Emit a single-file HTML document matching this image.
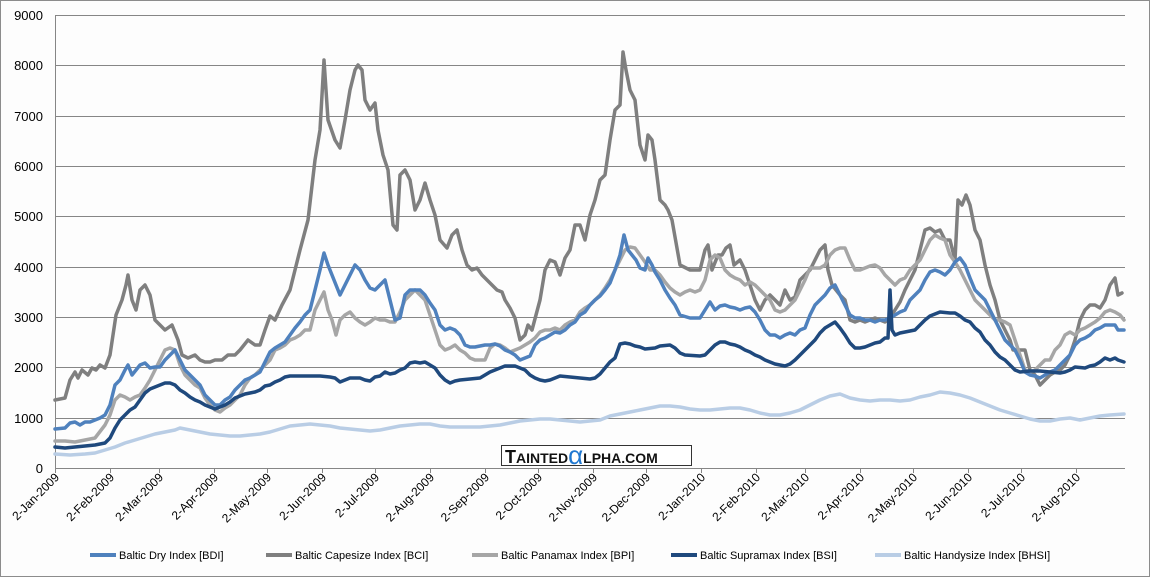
<!DOCTYPE html>
<html><head><meta charset="utf-8"><style>
body{margin:0;background:#fff}
svg{display:block;font-family:"Liberation Sans",Arial,sans-serif}
</style></head><body>
<svg width="1150" height="577" viewBox="0 0 1150 577" xmlns="http://www.w3.org/2000/svg">
<rect x="0.5" y="0.5" width="1149" height="576" fill="#fdfdfd" stroke="#8c8c8c"/>
<g stroke="#868686" stroke-width="1">
<line x1="55" y1="15.5" x2="1125" y2="15.5"/><line x1="55" y1="65.5" x2="1125" y2="65.5"/>
<line x1="55" y1="116.5" x2="1125" y2="116.5"/><line x1="55" y1="166.5" x2="1125" y2="166.5"/>
<line x1="55" y1="216.5" x2="1125" y2="216.5"/><line x1="55" y1="267.5" x2="1125" y2="267.5"/>
<line x1="55" y1="317.5" x2="1125" y2="317.5"/><line x1="55" y1="367.5" x2="1125" y2="367.5"/>
<line x1="55" y1="418.5" x2="1125" y2="418.5"/><line x1="55" y1="468.5" x2="1125" y2="468.5"/>
<line x1="55.5" y1="15" x2="55.5" y2="468"/>
</g>
<g font-size="13" text-anchor="end" fill="#000">
<text x="43" y="20">9000</text><text x="43" y="70">8000</text><text x="43" y="121">7000</text>
<text x="43" y="171">6000</text><text x="43" y="221">5000</text><text x="43" y="272">4000</text>
<text x="43" y="322">3000</text><text x="43" y="372">2000</text><text x="43" y="423">1000</text>
<text x="43" y="473">0</text>
</g>
<g stroke="#868686">
<path d="M55.5 468v5M110.5 468v5M159.5 468v5M214.5 468v5M267.5 468v5M322.5 468v5M375.5 468v5M430.5 468v5M485.5 468v5M538.5 468v5M593.5 468v5M646.5 468v5M701.5 468v5M756.5 468v5M805.5 468v5M860.5 468v5M913.5 468v5M968.5 468v5M1021.5 468v5M1076.5 468v5"/>
</g>
<g font-size="12" text-anchor="end" fill="#000">
<text transform="translate(60,478) rotate(-45)">2-Jan-2009</text>
<text transform="translate(115,478) rotate(-45)">2-Feb-2009</text>
<text transform="translate(164,478) rotate(-45)">2-Mar-2009</text>
<text transform="translate(219,478) rotate(-45)">2-Apr-2009</text>
<text transform="translate(272,478) rotate(-45)">2-May-2009</text>
<text transform="translate(327,478) rotate(-45)">2-Jun-2009</text>
<text transform="translate(380,478) rotate(-45)">2-Jul-2009</text>
<text transform="translate(435,478) rotate(-45)">2-Aug-2009</text>
<text transform="translate(490,478) rotate(-45)">2-Sep-2009</text>
<text transform="translate(543,478) rotate(-45)">2-Oct-2009</text>
<text transform="translate(598,478) rotate(-45)">2-Nov-2009</text>
<text transform="translate(651,478) rotate(-45)">2-Dec-2009</text>
<text transform="translate(706,478) rotate(-45)">2-Jan-2010</text>
<text transform="translate(761,478) rotate(-45)">2-Feb-2010</text>
<text transform="translate(810,478) rotate(-45)">2-Mar-2010</text>
<text transform="translate(865,478) rotate(-45)">2-Apr-2010</text>
<text transform="translate(918,478) rotate(-45)">2-May-2010</text>
<text transform="translate(973,478) rotate(-45)">2-Jun-2010</text>
<text transform="translate(1026,478) rotate(-45)">2-Jul-2010</text>
<text transform="translate(1081,478) rotate(-45)">2-Aug-2010</text>
</g>
<g fill="none" stroke-width="3.5" stroke-linejoin="round" stroke-linecap="round">
<polyline stroke="#b9cde5" points="55,454 70,455 85,454 95,453 105,450 115,447 125,443 135,440 145,437 155,434 165,432 175,430 180,428 185,429 190,430 200,432 210,434 220,435 230,436 240,436 250,435 260,434 270,432 280,429 290,426 300,425 310,424 320,425 330,426 340,428 350,429 360,430 370,431 380,430 390,428 400,426 410,425 420,424 430,424 440,426 450,427 460,427 470,427 480,427 490,426 500,425 510,423 520,421 530,420 540,419 550,419 560,420 570,421 580,422 590,421 600,420 610,416 620,414 630,412 640,410 650,408 660,406 670,406 680,407 690,409 700,410 710,410 720,409 730,408 740,408 750,410 760,413 770,415 780,415 790,413 800,410 810,405 820,400 830,396 840,394 850,398 860,400 870,401 880,400 890,400 900,401 910,400 920,397 930,395 940,392 950,393 960,395 970,398 980,402 990,406 1000,410 1010,413 1020,416 1030,419 1040,421 1050,421 1060,419 1070,418 1080,420 1090,418 1100,416 1110,415 1124,414"/>
<polyline stroke="#7f7f7f" points="55,400 65,398 70,380 75,372 78,378 82,370 88,375 92,368 96,370 100,365 105,368 110,355 116,315 122,300 126,285 128,275 132,300 136,310 140,290 145,285 150,295 155,320 160,325 165,330 172,325 178,340 182,355 188,358 195,355 200,360 205,362 210,362 215,360 222,360 228,355 235,355 240,350 248,340 255,345 260,345 265,330 270,316 275,320 282,305 290,290 295,270 300,250 308,220 315,160 320,130 324,60 326,90 328,120 335,140 340,148 345,120 350,90 355,70 358,65 362,70 365,100 370,110 375,103 378,130 383,155 388,170 393,225 397,230 400,175 405,170 410,180 415,210 420,200 425,183 430,200 435,215 440,240 447,248 452,235 457,230 462,250 467,265 472,270 477,268 482,275 487,280 492,285 497,290 502,292 505,300 510,308 515,318 520,340 525,335 528,325 532,330 540,300 545,270 550,260 555,262 560,275 565,258 570,250 575,225 580,225 585,240 590,215 595,200 600,180 605,175 610,140 615,110 620,105 623,52 626,70 630,90 635,100 640,145 645,160 648,135 652,140 655,160 660,200 665,205 668,210 672,220 680,265 690,270 700,270 705,250 708,245 712,270 718,255 722,255 726,248 730,245 734,265 740,260 745,270 750,285 755,300 760,310 765,300 770,295 775,300 780,305 785,290 790,300 795,297 800,280 805,275 810,270 815,260 820,250 825,245 828,270 832,285 836,290 840,295 845,300 850,320 855,322 860,320 865,322 870,320 875,318 880,320 885,322 890,318 895,310 900,302 905,290 910,280 915,270 920,250 925,230 930,228 935,232 940,230 945,240 950,240 955,260 958,200 962,205 966,195 970,205 975,230 980,240 985,265 990,285 995,300 1000,320 1005,330 1010,340 1013,350 1017,350 1020,350 1025,350 1030,370 1035,375 1040,385 1045,380 1050,375 1055,372 1060,370 1065,365 1070,355 1075,340 1080,320 1085,310 1090,305 1095,305 1100,308 1105,300 1110,285 1115,278 1118,295 1122,293"/>
<polyline stroke="#a6a6a6" points="55,441 65,441 75,442 85,440 95,438 105,425 110,415 115,400 120,395 125,397 130,400 135,397 140,395 145,388 150,380 155,370 160,360 165,350 170,348 175,350 180,365 185,375 190,380 195,385 200,388 205,398 210,405 215,410 220,412 225,408 230,405 235,400 240,395 245,385 250,378 255,375 260,370 265,365 270,360 275,350 280,348 285,345 290,340 295,338 300,335 305,330 310,330 315,310 320,300 324,292 328,310 332,320 336,335 340,320 345,315 350,312 355,318 360,322 365,325 370,322 375,318 380,320 385,320 390,322 395,322 400,312 405,300 410,295 415,290 420,295 425,300 430,315 435,330 440,345 445,350 450,348 455,345 460,350 465,353 470,358 475,360 480,360 485,360 490,348 495,344 500,345 505,348 510,352 515,350 520,348 525,345 530,342 535,338 540,332 545,330 550,330 555,328 560,330 565,325 570,322 575,320 580,312 585,308 590,305 595,300 600,295 605,288 610,280 615,270 620,260 625,250 630,247 635,248 640,255 645,262 650,270 655,270 660,275 665,282 670,288 675,292 680,295 685,292 690,290 695,292 700,290 705,280 710,260 715,255 720,258 725,270 730,275 735,278 740,280 745,285 750,282 755,285 760,290 765,295 770,300 775,310 780,312 785,310 790,305 795,300 800,290 805,280 810,268 815,268 820,268 825,265 830,255 835,250 840,248 845,248 850,260 855,270 860,270 865,268 870,266 875,265 880,268 885,275 890,280 895,285 900,280 905,278 910,270 915,265 920,260 925,250 930,240 935,235 940,238 945,240 950,255 955,262 960,270 965,280 970,290 975,300 980,305 985,310 990,315 995,320 1000,320 1005,322 1010,325 1015,340 1020,355 1025,370 1030,372 1035,370 1040,365 1045,360 1050,360 1055,350 1060,345 1065,335 1070,332 1075,335 1080,330 1085,328 1090,325 1095,322 1100,318 1105,312 1110,310 1115,312 1120,315 1124,320"/>
<polyline stroke="#4f81bd" points="55,429 65,428 70,423 75,422 80,425 85,422 90,422 95,420 100,418 105,415 110,405 115,385 120,380 125,370 128,365 132,375 136,370 140,365 145,363 150,368 155,367 160,367 165,360 170,355 175,350 180,360 185,370 190,375 195,380 200,385 205,395 210,400 215,405 220,405 225,400 230,397 235,390 240,385 245,380 250,378 255,375 260,372 265,362 270,352 275,348 280,345 285,342 290,335 295,328 300,322 305,315 310,310 315,290 320,270 324,253 328,265 332,275 336,285 340,295 345,285 350,275 355,265 360,270 365,280 370,288 375,290 380,285 385,280 390,300 395,320 400,318 405,295 410,290 415,290 420,290 425,295 430,303 435,310 440,325 445,330 450,328 455,330 460,335 465,345 470,347 475,347 480,346 485,345 490,345 495,344 500,346 505,350 510,352 515,355 520,360 525,358 530,356 535,345 540,340 545,338 550,335 555,332 560,333 565,330 570,325 575,322 580,315 585,312 590,305 595,300 600,296 605,290 610,283 615,270 620,255 624,235 628,250 632,255 636,260 640,268 645,270 648,258 652,265 655,272 660,280 665,290 670,298 675,305 680,315 690,318 700,318 705,310 710,302 715,310 720,306 725,305 730,307 735,308 740,310 745,308 750,307 755,312 760,320 765,330 770,335 775,335 780,338 785,335 790,333 795,335 800,330 805,328 810,315 815,305 820,300 825,295 830,288 835,285 840,295 845,305 850,315 855,318 860,318 865,320 870,320 875,322 880,320 885,320 890,318 895,315 900,312 905,310 910,300 915,295 920,290 925,280 930,272 935,270 940,272 945,275 950,270 955,262 960,258 965,265 970,278 975,290 980,295 985,300 990,310 995,320 1000,330 1005,340 1010,345 1015,350 1020,360 1025,372 1030,375 1035,376 1040,378 1045,375 1050,372 1055,370 1060,365 1065,360 1070,355 1075,345 1080,340 1085,338 1090,335 1095,330 1100,328 1105,325 1110,325 1115,325 1118,330 1124,330"/>
<polyline stroke="#1f497d" points="55,447 65,448 75,447 85,446 95,445 105,443 110,438 115,428 120,420 125,415 130,410 135,407 140,400 145,393 150,389 155,387 160,385 165,383 170,383 175,385 180,390 185,393 190,397 195,400 200,402 205,405 210,407 215,409 220,407 225,405 230,402 235,398 240,396 245,394 250,393 255,392 260,390 265,386 270,385 275,382 280,380 285,377 290,376 300,376 310,376 320,376 330,377 335,378 340,382 345,380 350,378 360,378 365,380 370,381 375,377 380,376 385,372 390,374 395,373 400,370 405,368 410,363 415,362 420,363 425,362 430,365 435,368 440,375 445,380 450,383 455,381 460,380 480,378 485,375 490,372 495,370 500,368 505,366 515,366 520,368 525,370 530,375 535,378 540,380 545,381 550,380 555,378 560,376 570,377 580,378 590,379 595,378 600,374 605,368 610,362 615,358 620,344 625,343 630,344 635,346 640,347 645,349 655,348 660,346 670,345 675,348 680,353 685,355 700,356 705,355 710,350 715,345 720,342 725,342 730,344 735,345 740,347 745,350 750,352 755,355 760,357 765,360 770,362 775,364 780,365 785,366 790,364 795,360 800,355 805,350 810,345 815,340 820,333 825,328 830,325 835,322 840,328 845,335 850,343 855,348 860,348 865,347 870,345 875,343 880,342 885,338 888,338 890,290 892,330 895,335 900,333 910,331 915,330 920,325 925,320 930,316 935,314 940,312 950,313 955,313 960,316 965,320 970,322 975,328 980,332 985,340 990,345 995,352 1000,357 1005,360 1010,365 1015,370 1020,372 1030,371 1040,371 1050,372 1060,373 1065,372 1070,370 1075,367 1085,368 1090,366 1095,365 1100,362 1105,358 1110,360 1115,358 1118,360 1124,362"/>
</g>
<rect x="501.5" y="445.5" width="190" height="20" fill="#fff" stroke="#333"/>
<text x="505" y="463" font-size="18" font-weight="bold" fill="#111">T<tspan font-size="14">AINTED</tspan><tspan fill="#1f77d0" font-size="26" font-family="Liberation Sans,sans-serif" font-weight="normal" dy="1">α</tspan><tspan font-size="14" dy="-1">LPHA.COM</tspan></text>
<g font-size="11" fill="#000">
<line x1="90" y1="555" x2="116" y2="555" stroke="#4f81bd" stroke-width="4"/><text x="119" y="559">Baltic Dry Index [BDI]</text>
<line x1="266" y1="555" x2="292" y2="555" stroke="#7f7f7f" stroke-width="4"/><text x="295" y="559">Baltic Capesize Index [BCI]</text>
<line x1="472" y1="555" x2="498" y2="555" stroke="#a6a6a6" stroke-width="4"/><text x="501" y="559">Baltic Panamax Index [BPI]</text>
<line x1="671" y1="555" x2="697" y2="555" stroke="#1f497d" stroke-width="4"/><text x="700" y="559">Baltic Supramax Index [BSI]</text>
<line x1="875" y1="555" x2="901" y2="555" stroke="#b9cde5" stroke-width="4"/><text x="904" y="559">Baltic Handysize Index [BHSI]</text>
</g>
</svg>
</body></html>
